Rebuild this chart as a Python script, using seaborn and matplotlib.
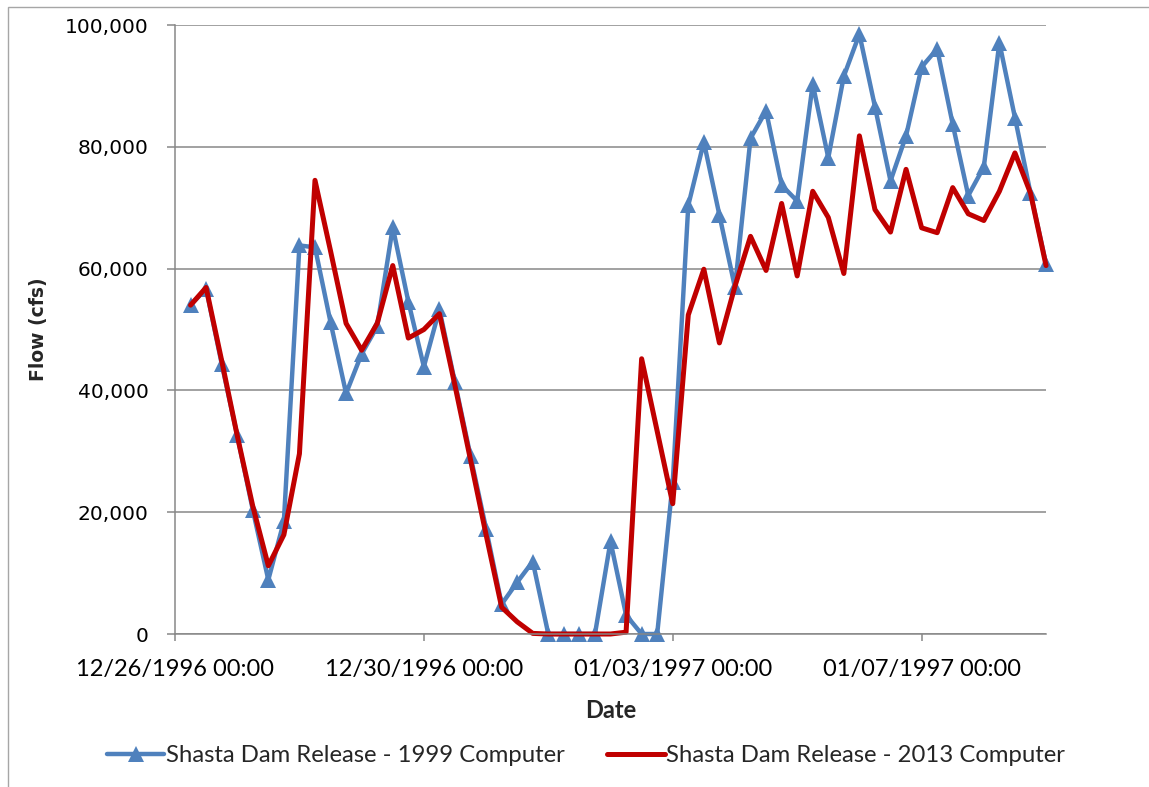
import numpy as np
import pandas as pd
import matplotlib
matplotlib.use("Agg")
import matplotlib.pyplot as plt
import matplotlib.dates as mdates
from matplotlib.ticker import FuncFormatter
import seaborn as sns

# 6-hourly Shasta Dam releases (cfs), first value at 12/26/1996 06:00
start = "1996-12-26 06:00"

flow_1999 = [54000, 56700, 44400, 32600, 20400, 8900, 18500, 63800, 63500, 51200,
             39500, 46000, 50500, 66800, 54600, 43900, 53300, 41300, 29200, 17300,
             4900, 8500, 11900, 0, 0, 0, 0, 15200, 3100, 0,
             0, 24900, 70400, 80800, 68800, 56900, 81400, 85900, 73700, 71100,
             90300, 78200, 91600, 98500, 86600, 74400, 81800, 93100, 96100, 83700,
             72000, 76700, 97100, 84800, 72400, 60800]

flow_2013 = [54000, 56900, 44900, 32600, 21000, 11200, 16300, 29600, 74500, 62900,
             51000, 46600, 51000, 60500, 48600, 50000, 52600, 40800, 28600, 16300,
             4400, 2000, 100, 0, 0, 0, 0, 0, 300, 45200,
             33300, 21400, 52400, 59900, 47800, 57100, 65300, 59700, 70700, 58800,
             72700, 68400, 59200, 81800, 69700, 66000, 76300, 66700, 65900, 73300,
             69000, 67900, 72700, 79000, 72400, 60500]

series_names = ["Shasta Dam Release - 1999 Computer", "Shasta Dam Release - 2013 Computer"]
tick_dates = pd.date_range("1996-12-26", periods=4, freq="4D")

dates = pd.date_range(start, periods=len(flow_1999), freq="6h")
df = pd.DataFrame({"Date": dates, "old": flow_1999, "new": flow_2013})

sns.set_style("white")
plt.rcParams["font.family"] = ["DejaVu Sans"]

fig = plt.figure(figsize=(11.49, 7.87), dpi=100)
ax = fig.add_axes([0.1523, 0.1944, 0.7581, 0.7738])

# chart area border (only left / top visible in the crop)
fig.add_artist(plt.Rectangle((8 / 1149, -0.1), 1.2, 1 - 7 / 787 + 0.1,
                             transform=fig.transFigure, fill=False,
                             edgecolor="#a6a6a6", lw=1))

grey = "#878787"

sns.lineplot(data=df, x="Date", y="old", ax=ax, color="#4F81BD", lw=3.2,
             marker="^", markersize=12, markeredgewidth=0,
             label=series_names[0], clip_on=False)
sns.lineplot(data=df, x="Date", y="new", ax=ax, color="#C00000", lw=3.6,
             label=series_names[1], clip_on=False)

ax.set_xlim(pd.Timestamp("1996-12-26"), pd.Timestamp("1997-01-09"))
ax.set_ylim(0, 100000)
ax.set_yticks(np.arange(0, 100001, 20000))
ax.yaxis.set_major_formatter(FuncFormatter(lambda v, p: f"{int(v):,}"))
ax.set_xticks(tick_dates)
ax.xaxis.set_major_formatter(mdates.DateFormatter("%m/%d/%Y %H:%M"))

ax.yaxis.grid(True, color=grey, lw=1.1)
ax.xaxis.grid(False)
for s in ["top", "right"]:
    ax.spines[s].set_visible(False)
for s in ["left", "bottom"]:
    ax.spines[s].set_color(grey)
    ax.spines[s].set_linewidth(1.1)

ax.tick_params(axis="y", direction="out", length=6, width=1.1, color=grey,
               pad=13, labelsize=14.5, labelcolor="black", left=True)
ax.tick_params(axis="x", direction="out", length=5, width=1.1, color=grey,
               pad=13, labelsize=17, labelcolor="black", bottom=True)
for t in ax.get_xticklabels():
    t.set_fontfamily("Lato")

ax.set_ylabel("Flow (cfs)", fontsize=13.5, fontweight="bold")
ax.yaxis.label.set_va("center")
ax.yaxis.set_label_coords(-0.157, 0.5)
ax.set_xlabel("Date", fontsize=17, fontweight="bold", family="Lato")
ax.xaxis.label.set_va("center")
ax.xaxis.set_label_coords(0.5, -0.126)

ax.get_legend().remove()
h, l = ax.get_legend_handles_labels()
fig.legend(h, l, loc="center", bbox_to_anchor=(0.51, 0.040), ncol=2,
           frameon=False, handlelength=2.4, handletextpad=0.05,
           columnspacing=1.8, prop={"family": "Lato", "size": 17.2})

fig.savefig("out.png", dpi=100)
